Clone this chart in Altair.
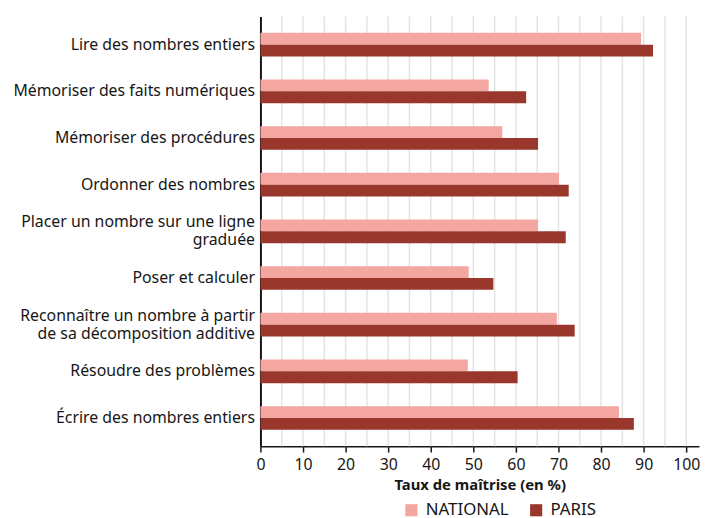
import altair as alt
import pandas as pd

categories = [
    "Lire des nombres entiers",
    "Mémoriser des faits numériques",
    "Mémoriser des procédures",
    "Ordonner des nombres",
    "Placer un nombre sur une ligne\ngraduée",
    "Poser et calculer",
    "Reconnaître un nombre à partir\nde sa décomposition additive",
    "Résoudre des problèmes",
    "Écrire des nombres entiers",
]
national = [89.4, 53.6, 56.8, 70.1, 65.2, 48.9, 69.6, 48.7, 84.2]
paris = [92.2, 62.4, 65.2, 72.4, 71.7, 54.7, 73.8, 60.4, 87.7]
series = ["NATIONAL", "PARIS"]
colors = ["#F4A6A0", "#99372D"]
tick_values = [0, 10, 20, 30, 40, 50, 60, 70, 80, 90, 100]
grid_values = [5, 10, 15, 20, 25, 30, 35, 40, 45, 50, 55, 60, 65, 70, 75, 80, 85, 90, 95, 100]

rows = []
for c, n, p in zip(categories, national, paris):
    rows.append({"cat": c, "serie": "NATIONAL", "val": n})
    rows.append({"cat": c, "serie": "PARIS", "val": p})
df = pd.DataFrame(rows)
grid_df = pd.DataFrame({"g": grid_values})

FONT = "Noto Sans"
FS = 16
xscale = alt.Scale(domain=[0, 103], nice=False, zero=True)
xaxis = alt.Axis(
    title="Taux de maîtrise (en %)",
    values=tick_values,
    grid=False,
    tickSize=6,
    tickColor="#161616",
    tickWidth=1.5,
    labelPadding=5,
    labelFontSize=FS,
    labelFont=FONT,
    labelColor="#161616",
    titleFont=FONT,
    titleFontSize=15,
    titleFontWeight="bold",
    titleColor="#161616",
    titlePadding=5,
    domainColor="#161616",
    domainWidth=1.5,
    labelFlush=False,
)

grid = alt.Chart(grid_df).mark_rule(color="#e3e3e3", strokeWidth=1.5).encode(
    x=alt.X("g:Q", scale=xscale, axis=xaxis, title="Taux de maîtrise (en %)")
)

bars = alt.Chart(df).mark_bar().encode(
    y=alt.Y(
        "cat:N",
        sort=categories,
        scale=alt.Scale(paddingInner=0.492, paddingOuter=0.35),
        axis=alt.Axis(
            title=None,
            ticks=False,
            labelPadding=6,
            labelFontSize=FS,
            labelFont=FONT,
            labelColor="#161616",
            labelLimit=400,
            labelLineHeight=18,
            labelExpr="split(datum.label, '\\n')",
            labelOffset=alt.condition("indexof(datum.value, '\\n') >= 0", alt.value(-9), alt.value(0)),
            domainColor="#161616",
            domainWidth=2,
        ),
    ),
    yOffset=alt.YOffset("serie:N", sort=series, scale=alt.Scale(paddingInner=0, paddingOuter=0)),
    x=alt.X("val:Q", scale=xscale, axis=xaxis, title="Taux de maîtrise (en %)"),
    color=alt.Color(
        "serie:N",
        sort=series,
        scale=alt.Scale(domain=series, range=colors),
        legend=alt.Legend(
            title=None,
            orient="none",
            direction="horizontal",
            legendX=144,
            legendY=490,
            symbolType="square",
            symbolSize=150,
            symbolStrokeWidth=0,
            symbolOpacity=1,
            labelFont=FONT,
            labelFontSize=17,
            labelColor="#161616",
            columnPadding=19,
            labelOffset=6,
        ),
    ),
)

chart = alt.layer(grid, bars).properties(
    width=443,
    height=434,
    padding={"left": 4, "top": 5, "right": 0, "bottom": 0},
).configure_view(stroke=None)

chart.save("out.html", embed_options={"renderer": "svg", "actions": False})
